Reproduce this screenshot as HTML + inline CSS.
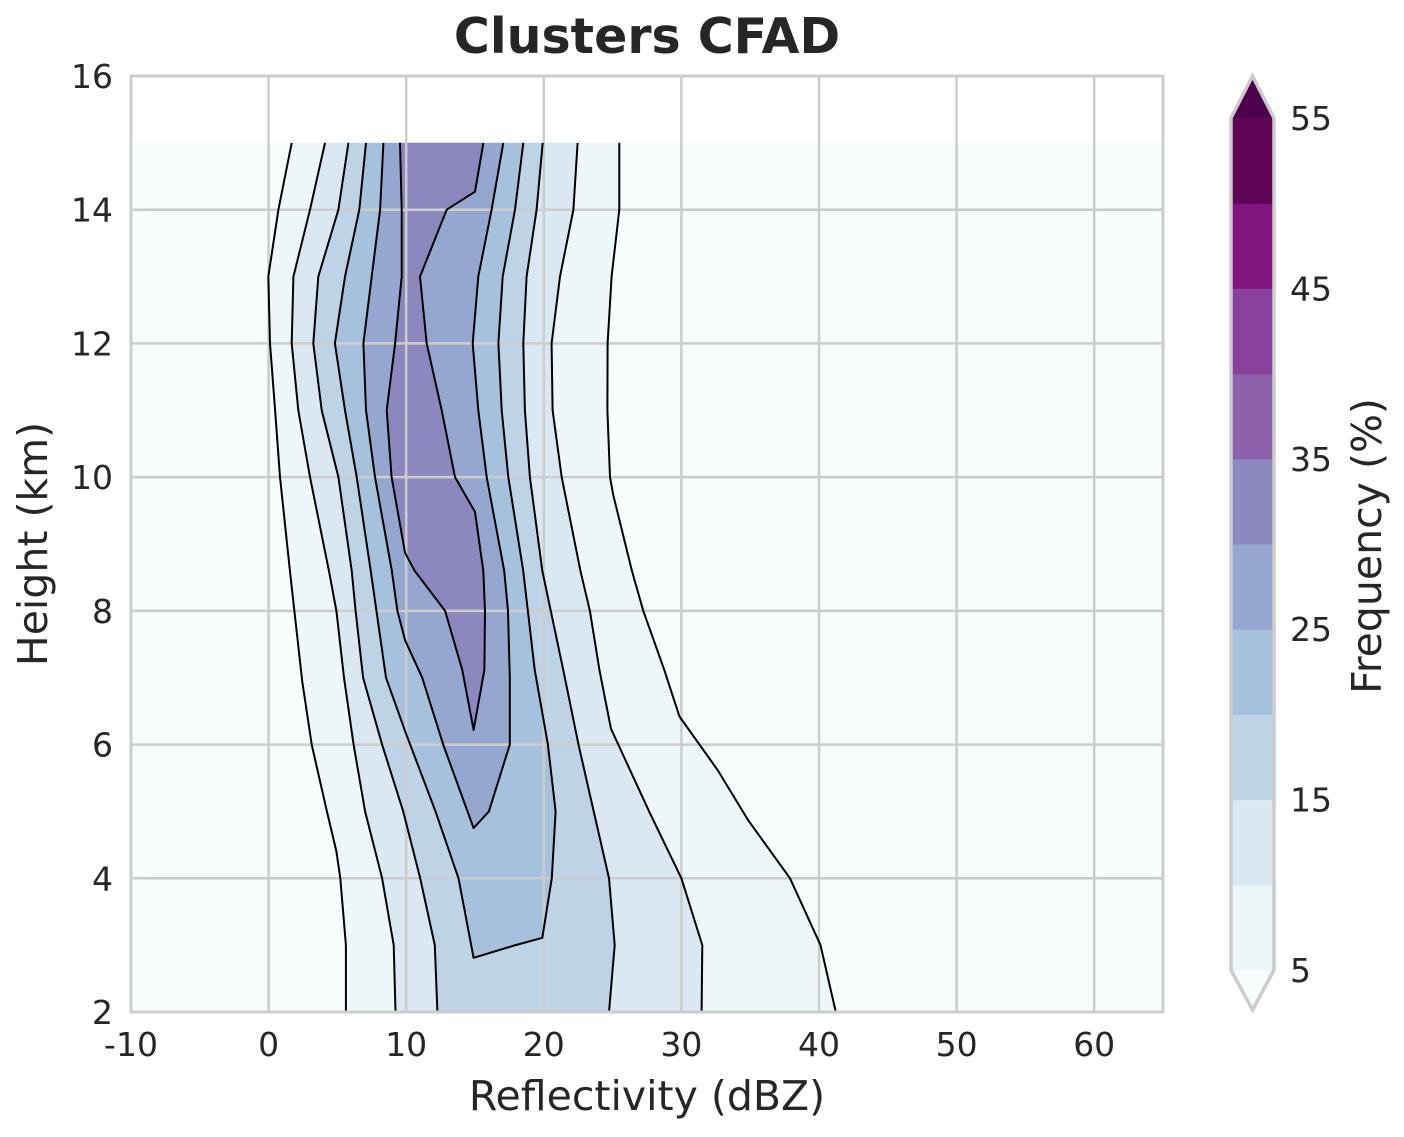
<!DOCTYPE html>
<html><head><meta charset="utf-8"><style>
html,body{margin:0;padding:0;background:#fff;}
svg text{font-family:"DejaVu Sans","Liberation Sans",sans-serif;fill:#262626;}
</style></head><body>
<svg id="chart" width="1404" height="1132" viewBox="0 0 1404 1132" xmlns="http://www.w3.org/2000/svg">
<text x="647" y="53" text-anchor="middle" font-size="49" font-weight="bold">Clusters CFAD</text>
<g id="plot"></g>
<g id="cbar"></g>
<text x="647" y="1110" text-anchor="middle" font-size="41">Reflectivity (dBZ)</text>
<text transform="translate(47,544) rotate(-90)" text-anchor="middle" font-size="41">Height (km)</text>
<text transform="translate(1381,546) rotate(-90)" text-anchor="middle" font-size="41">Frequency (%)</text>
</svg>
<script>
const xTicks = [-10, 0, 10, 20, 30, 40, 50, 60];
const yTicks = [2, 4, 6, 8, 10, 12, 14, 16];
const cbarLevels = [5, 10, 15, 20, 25, 30, 35, 40, 45, 50, 55];
const cbarTickLabels = [5, 15, 25, 35, 45, 55];
const levelColors = ["#edf6f9","#dbe7f1","#bfd3e6","#a6c1dd","#95a7d1","#8c87bf","#8c62ac","#88419d","#821680","#600458"];
const dataTop = 15, dataBottom = 2;
// contour vertices [height km, reflectivity dBZ]
const c1Left = [[15,1.68],[14,0.71],[13,-0.02],[12,0.10],[11,0.47],[10,0.83],[8.6,1.55],[6.95,2.44],[6,3.13],[5,4.24],[4.4,4.93],[4,5.21],[3,5.62],[2,5.62]];
const c1Right = [[15,25.49],[14,25.49],[13,24.93],[12,24.64],[11,24.62],[10,24.81],[9.73,25.05],[8.6,26.4],[8,27.23],[7.12,28.75],[6.42,29.86],[5.62,32.63],[4.87,34.85],[4,37.89],[3,40.11],[2,41.22]];
const c2Left = [[15,4.10],[14,3.01],[13,1.80],[12,1.68],[11,2.16],[10,3.01],[8.6,4.38],[8,4.93],[7,5.48],[6,6.18],[5,7.01],[4,8.25],[3,9.09],[2,9.22]];
const c2Right = [[15,22.46],[14,22.15],[13,21.18],[12,20.57],[11,20.64],[10,21.30],[8.6,22.66],[8,23.35],[7.12,24.04],[6.24,24.88],[5,27.65],[4,30.0],[3,31.52],[2,31.47]];
const c3Left = [[15,5.80],[14,5.07],[13,3.61],[12,3.25],[11,3.86],[10,5.07],[8.6,6.04],[8,6.32],[7,6.87],[6,8.25],[5,9.78],[4,11.02],[3,12.08],[2,12.27]];
const c3Right = [[15,19.92],[14,19.48],[13,18.75],[12,18.51],[11,18.63],[10,18.99],[8.6,19.89],[7.12,21.41],[6,22.52],[5,23.63],[4,24.74],[3,25.15],[2,24.74]];
const c4Left = [[15,7.08],[14,6.59],[13,5.55],[12,4.82],[11,5.55],[10,6.40],[8.6,7.42],[7,8.53],[6.2,9.92],[5,12.13],[4,13.80],[2.81,14.90],[3.0,17.95]];
const c4Right = [[15,18.51],[14,17.91],[13,17.01],[12,16.70],[11,16.94],[10,17.42],[8.6,18.50],[7.12,19.34],[6,20.30],[5,20.86],[4,20.58],[3.11,19.89]];
const c5Left = [[15,8.34],[14,8.10],[13,7.49],[12,6.89],[11,7.08],[10,7.73],[8.6,8.95],[8,9.36],[7.56,9.92],[7,11.16],[6,12.69],[4.75,14.90]];
const c5Right = [[15,17.06],[14,16.21],[13,15.24],[12,14.83],[11,15.24],[10,15.85],[8.6,17.12],[8,17.40],[7,17.53],[6,17.53],[5,16.01]];
const c6Left = [[15,9.55],[14,9.67],[13,9.67],[12,9.19],[11,8.58],[10,8.94],[8.87,9.91],[8.6,10.61],[8,12.83],[7.12,14.07],[6.22,14.90]];
const c6Right = [[15,15.61],[14.27,15.00],[14,12.94],[13,11.00],[12,11.49],[11,12.58],[10,13.55],[9.48,15.00],[8.6,15.60],[8,15.73],[7.12,15.68]];

const NS = "http://www.w3.org/2000/svg";
const X0 = 131, X1 = 1163, Y0 = 76, Y1 = 1012;
const xMin = -10, xMax = 65, yMin = 2, yMax = 16;
const xs = v => X0 + (v - xMin) / (xMax - xMin) * (X1 - X0);
const ys = v => Y1 - (v - yMin) / (yMax - yMin) * (Y1 - Y0);
function mk(tag, attrs, parent){const e=document.createElementNS(NS,tag);for(const k in attrs)e.setAttribute(k,attrs[k]);parent.appendChild(e);return e;}
const plot = document.getElementById('plot');

let bg = mk('rect',{x:X0,y:ys(dataTop),width:X1-X0,height:ys(dataBottom)-ys(dataTop),fill:"#f7fcfd"},plot);



const contours = [[c1Left,c1Right],[c2Left,c2Right],[c3Left,c3Right],[c4Left,c4Right],[c5Left,c5Right],[c6Left,c6Right]];
const P = p => xs(p[1]).toFixed(1)+","+ys(p[0]).toFixed(1);
contours.forEach((c,i)=>{
  const pts = c[0].concat(c[1].slice().reverse()).map(P).join(" ");
  const pg = mk('polygon',{points:pts,fill:levelColors[i],stroke:"none"},plot);
  
  
});
xTicks.forEach(t=>{
  const l = mk('line',{x1:xs(t),x2:xs(t),y1:Y0,y2:Y1,stroke:"#cccccc","stroke-width":2.5},plot);
  
  
  const tx = mk('text',{x:xs(t),y:Y1+44,"text-anchor":"middle","font-size":33},plot);
  tx.textContent = t;
  
  
});
yTicks.forEach(t=>{
  const l = mk('line',{x1:X0,x2:X1,y1:ys(t),y2:ys(t),stroke:"#cccccc","stroke-width":2.5},plot);
  
  
  const tx = mk('text',{x:X0-18,y:ys(t)+12,"text-anchor":"end","font-size":33},plot);
  tx.textContent = t;
  
  
});
contours.forEach((c,i)=>{
  if(i>=3){
    const pl = mk('polyline',{points:c[0].concat(c[1].slice().reverse()).map(P).join(" "),fill:"none",stroke:"#000","stroke-width":2,"stroke-linejoin":"round"},plot);
    
    
  } else {
    const pl = mk('polyline',{points:c[0].map(P).join(" "),fill:"none",stroke:"#000","stroke-width":2},plot);
    
    
    const pr = mk('polyline',{points:c[1].map(P).join(" "),fill:"none",stroke:"#000","stroke-width":2},plot);
    
    
  }
});
const frame = mk('rect',{x:X0,y:Y0,width:X1-X0,height:Y1-Y0,fill:"none",stroke:"#cccccc","stroke-width":3},plot);



const cb = document.getElementById('cbar');
const CX0 = 1231, CX1 = 1274, CB0 = 970, CB1 = 118;
const cys = v => CB0 - (v - 5) / (55 - 5) * (CB0 - CB1);
for(let i=0;i<cbarLevels.length-1;i++){
  const r = mk('rect',{x:CX0,y:cys(cbarLevels[i+1]),width:CX1-CX0,height:cys(cbarLevels[i])-cys(cbarLevels[i+1])+0.5,fill:levelColors[i]},cb);
  
  
}
let tri = mk('polygon',{points:`${CX0},${CB1} ${CX1},${CB1} ${(CX0+CX1)/2},76`,fill:"#4d004b"},cb);


tri = mk('polygon',{points:`${CX0},${CB0} ${CX1},${CB0} ${(CX0+CX1)/2},1010`,fill:"#f7fcfd"},cb);


const outline = mk('polygon',{points:`${CX0},${CB1} ${(CX0+CX1)/2},76 ${CX1},${CB1} ${CX1},${CB0} ${(CX0+CX1)/2},1010 ${CX0},${CB0}`,fill:"none",stroke:"#cccccc","stroke-width":3.5},cb);


cbarTickLabels.forEach(t=>{
  const tx = mk('text',{x:1290,y:cys(t)+12,"font-size":33},cb);
  tx.textContent = t;
  
  
});
</script>
</body></html>
